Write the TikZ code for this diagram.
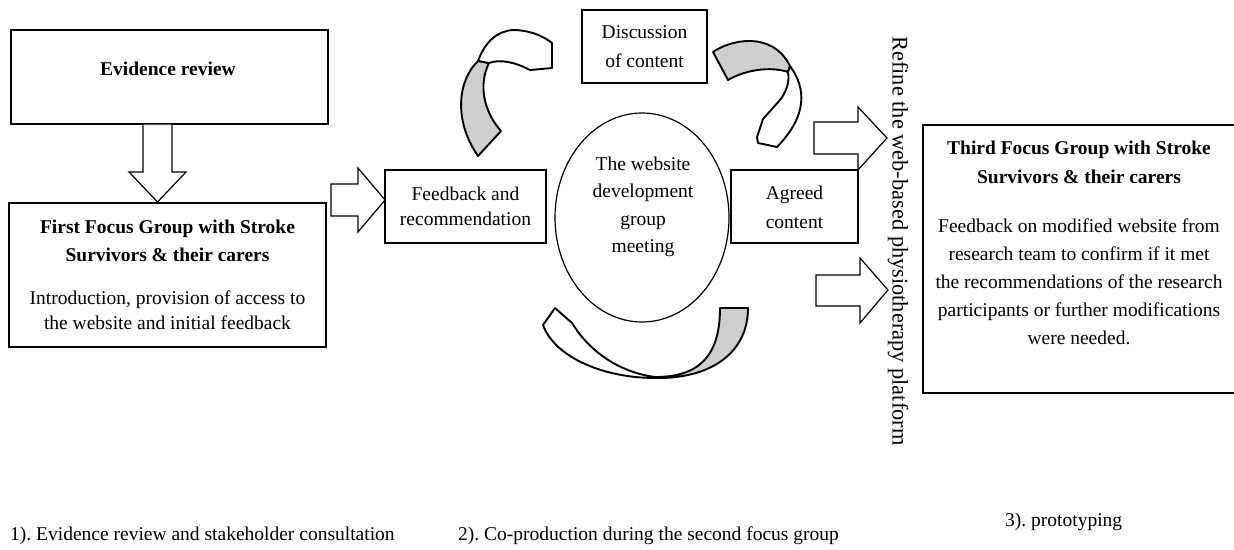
\documentclass[tikz,border=0pt]{standalone}
\usepackage{fontspec}
\setmainfont{Liberation Serif}
\usetikzlibrary{shapes.geometric}
\frenchspacing
\begin{document}
\begin{tikzpicture}[x=1pt,y=-1pt,
  box/.style={draw,line width=1.3pt,inner sep=0pt},
  txt/.style={align=center,inner sep=0pt,font=\fontsize{19.5}{25}\selectfont},
  blk/.style={draw,line width=1.2pt,fill=white,line join=miter},
  ribw/.style={draw,line width=1.9pt,fill=white,line join=round},
  ribg/.style={draw,line width=1.9pt,fill=black!19,line join=round}]
\useasboundingbox[fill=white] (0,0) rectangle (1234,549);

% left column
\node[box,minimum width=317pt,minimum height=94pt] (evid) at (169.5,77) {};
\node[txt,font=\bfseries\fontsize{19.5}{25}\selectfont] (evidtxt) at (168,69) {Evidence review};
\node[box,minimum width=317pt,minimum height=144pt,txt] (first) at (167.5,275)
  {\textbf{First Focus Group with Stroke}\\[3pt] \textbf{Survivors \& their carers}\\[18pt]
   Introduction, provision of access to\\ the website and initial feedback};

% block arrows
\draw[blk] (143,124) -- (172,124) -- (172,172) -- (186,172) -- (157.5,202) -- (129,172) -- (143,172) -- cycle;
\draw[blk] (331,184) -- (358,184) -- (358,168) -- (385,200) -- (358,232) -- (358,216) -- (331,216) -- cycle;

% middle
\node[box,minimum width=161pt,minimum height=73pt,txt] (feed) at (465.5,206.5) {Feedback and\\recommendation};
\node[draw,ellipse,line width=1.2pt,minimum width=174pt,minimum height=209pt,inner sep=0pt] (meet) at (642,217.5) {};
\node[txt,font=\fontsize{19.5}{27.5}\selectfont] (meettxt) at (643,207) {The website\\development\\group\\meeting};
\node[box,minimum width=125pt,minimum height=73pt,txt,font=\fontsize{19.5}{29}\selectfont] (disc) at (644.5,46.5) {Discussion\\of content};
\node[box,minimum width=127pt,minimum height=73pt] (agreed) at (794.5,206.5) {};
\node[txt,font=\fontsize{19.5}{29}\selectfont] (agreedtxt) at (794.5,207.5) {Agreed\\content};

% ribbon 1 (upper left)
\draw[ribg] (478,156) -- (501,131) .. controls (484,112) and (478,85) .. (489,63) -- (478,61) .. controls (458,80) and (453,120) .. cycle;
\draw[ribw] (478,61) .. controls (485,42) and (497,31) .. (513,30) .. controls (528,30) and (542,35) .. (552,43) -- (552,68) -- (530,70) .. controls (515,62) and (500,59) .. (489,63) -- cycle;
% ribbon 2 (upper right)
\draw[ribg] (713,52) .. controls (730,40) and (772,30) .. (790,66) -- (788,72) .. controls (770,66) and (745,70) .. (728,80) -- cycle;
\draw[ribw] (790,66) .. controls (806,88) and (808,115) .. (777,147) -- (758,143) -- (757,137) -- (763,119) -- (780,100) .. controls (786,92) and (790,82) .. (788,72) -- cycle;
% ribbon 3 (bottom)
\draw[ribg] (655,377) .. controls (700,377) and (720,355) .. (720,308) -- (748,308) .. controls (748,352) and (712,379) .. (655,378) -- cycle;
\draw[ribw] (543,325) -- (555,308) -- (572,323) -- (578,332) .. controls (598,358) and (625,373) .. (655,377) -- (655,378) .. controls (605,378) and (555,358) .. cycle;

% right part
\draw[blk] (814,122) -- (858,122) -- (858,107) -- (887,138) -- (858,170) -- (858,154) -- (814,154) -- cycle;
\draw[blk] (816,275) -- (860,275) -- (860,258) -- (888,290) -- (860,323) -- (860,306) -- (816,306) -- cycle;
\node[rotate=-90,inner sep=0pt,font=\fontsize{22.4}{26}\selectfont] (refine) at (898,241) {Refine the web-based physiotherapy platform};
\node[box,minimum width=313pt,minimum height=268pt] (third) at (1079.5,259) {};
\node[txt,font=\fontsize{19.5}{28}\selectfont] (thirdtxt) at (1079,243)
  {\textbf{Third Focus Group with Stroke}\\[1pt] \textbf{Survivors \& their carers}\\[21pt]
   Feedback on modified website from\\ research team to confirm if it met\\ the recommendations of the research\\
   participants or further modifications\\ were needed.};

% bottom labels
\node[anchor=base west,inner sep=0pt,font=\fontsize{19.5}{25}\selectfont] (lab1) at (10,540) {1). Evidence review and stakeholder consultation};
\node[anchor=base west,inner sep=0pt,font=\fontsize{19.5}{25}\selectfont] (lab2) at (458,540) {2). Co-production during the second focus group};
\node[anchor=base west,inner sep=0pt,font=\fontsize{19.5}{25}\selectfont] (lab3) at (1005,526) {3). prototyping};
\end{tikzpicture}
\end{document}
